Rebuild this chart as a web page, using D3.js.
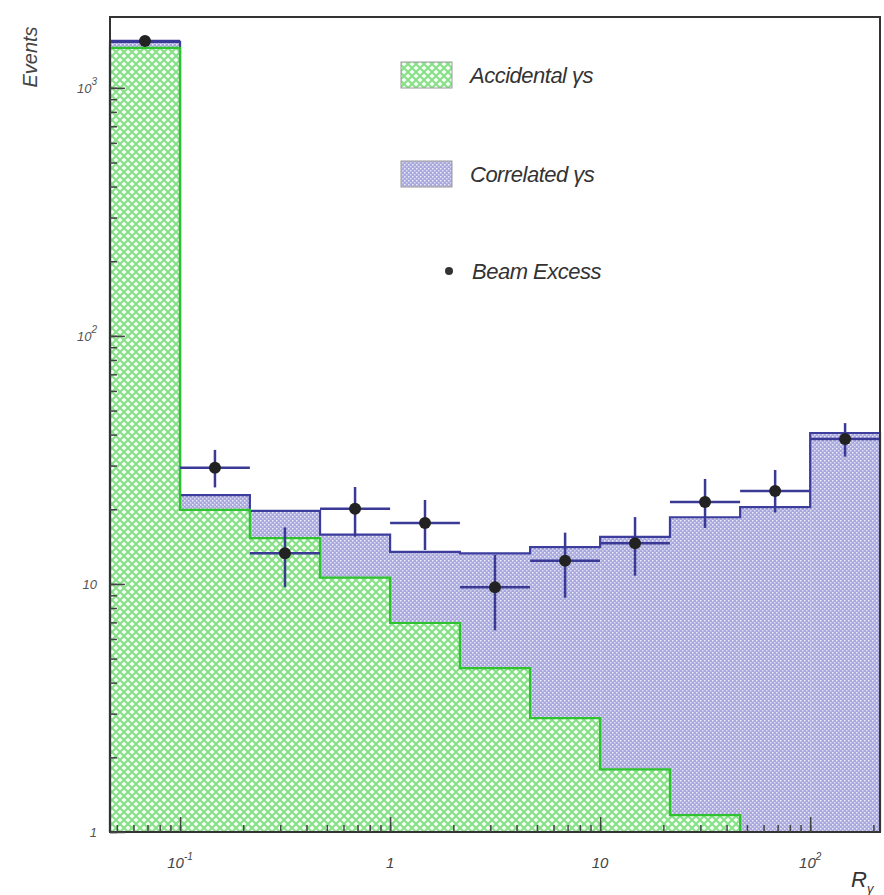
<!DOCTYPE html>
<html>
<head>
<meta charset="utf-8">
<script src="https://cdn.jsdelivr.net/npm/d3@7"></script>
<style>
  body { margin: 0; background: #fff; }
  svg { font-family: "Liberation Sans", Arial, sans-serif; font-style: italic; }
</style>
</head>
<body>
<div id="chart"></div>
<script>
// bin edges in R_gamma (three bins per decade)
const binEdges = [0.0464, 0.1, 0.215, 0.464, 1, 2.15, 4.64, 10, 21.5, 46.4, 100, 215];
// stacked histogram contents per bin
const accidental = [1450, 19.9, 15.3, 10.6, 6.96, 4.58, 2.88, 1.79, 1.17, 0.6, 0.3];
const correlated = [83, 2.9, 4.4, 5.2, 6.5, 8.7, 11.2, 13.7, 17.4, 19.8, 40.3];
// beam excess points with asymmetric errors
const excess = [1545, 29.4, 13.3, 20.1, 17.6, 9.7, 12.4, 14.6, 21.4, 23.7, 38.4];
const excessHi = [1600, 34.7, 16.9, 24.6, 21.8, 13.1, 16.1, 18.6, 26.5, 28.8, 44.5];
const excessLo = [1490, 24.5, 9.7, 15.5, 13.7, 6.5, 8.8, 10.8, 16.8, 19.4, 32.6];

const yTicks = [1, 10, 100, 1000];
const yTickLabels = [['1', ''], ['10', ''], ['10', '2'], ['10', '3']];
const xTicks = [0.1, 1, 10, 100];
const xTickLabels = [['10', '-1'], ['1', ''], ['10', ''], ['10', '2']];

const legendItems = ['Accidental γs', 'Correlated γs', 'Beam Excess'];

const width = 884, height = 895;
const margin = { top: 17, right: 4, bottom: 63, left: 110 };

const x = d3.scaleLog()
  .domain([binEdges[0], binEdges[binEdges.length - 1]])
  .range([margin.left, width - margin.right]);
const y = d3.scaleLog()
  .domain([1, 1930])
  .range([height - margin.bottom, margin.top])
  .clamp(true);

const svg = d3.select('#chart').append('svg')
  .attr('width', width)
  .attr('height', height);

const defs = svg.append('defs');

// green cross hatch
const pg = defs.append('pattern')
  .attr('id', 'hatchGreen')
  .attr('patternUnits', 'userSpaceOnUse')
  .attr('width', 8).attr('height', 8);
pg.append('rect').attr('width', 8).attr('height', 8).attr('fill', '#f4fdf4');
pg.append('path').attr('d', 'M0,0L8,8M8,0L0,8')
  .attr('stroke', '#86e086').attr('stroke-width', 2);

// blue stipple
const pb = defs.append('pattern')
  .attr('id', 'dotBlue')
  .attr('patternUnits', 'userSpaceOnUse')
  .attr('width', 4).attr('height', 4);
pb.append('rect').attr('width', 4).attr('height', 4).attr('fill', '#a8a8de');
pb.append('rect').attr('x', 0).attr('y', 0).attr('width', 1.5).attr('height', 1.5).attr('fill', '#ececf9');
pb.append('rect').attr('x', 2).attr('y', 2).attr('width', 1.5).attr('height', 1.5).attr('fill', '#dcdcf3');

const bins = accidental.map((a, i) => ({
  x0: binEdges[i],
  x1: binEdges[i + 1],
  acc: a,
  tot: a + correlated[i],
  ex: excess[i],
  hi: excessHi[i],
  lo: excessLo[i]
}));

const base = y(1);

// correlated (stacked on top)
svg.append('g').selectAll('rect')
  .data(bins)
  .join('rect')
  .attr('x', d => x(d.x0))
  .attr('width', d => x(d.x1) - x(d.x0))
  .attr('y', d => y(d.tot))
  .attr('height', d => base - y(d.tot))
  .attr('fill', 'url(#dotBlue)');

// accidental
svg.append('g').selectAll('rect')
  .data(bins)
  .join('rect')
  .attr('x', d => x(d.x0))
  .attr('width', d => x(d.x1) - x(d.x0))
  .attr('y', d => y(d.acc))
  .attr('height', d => base - y(d.acc))
  .attr('fill', 'url(#hatchGreen)');

function stepPoints(key) {
  const pts = [[x(bins[0].x0), base]];
  bins.forEach(d => {
    pts.push([x(d.x0), y(d[key])]);
    pts.push([x(d.x1), y(d[key])]);
  });
  pts.push([x(bins[bins.length - 1].x1), base]);
  return pts;
}

svg.append('path')
  .attr('d', d3.line()(stepPoints('tot')))
  .attr('fill', 'none')
  .attr('stroke', '#3d3d9e')
  .attr('stroke-width', 2.2);

svg.append('path')
  .attr('d', d3.line()(stepPoints('acc')))
  .attr('fill', 'none')
  .attr('stroke', '#2fc42f')
  .attr('stroke-width', 2.2);

// beam excess with error bars
const pts = svg.append('g');
pts.selectAll('.hbar')
  .data(bins)
  .join('line')
  .attr('x1', d => x(d.x0))
  .attr('x2', d => x(d.x1))
  .attr('y1', d => y(d.ex))
  .attr('y2', d => y(d.ex))
  .attr('stroke', '#3a3a96')
  .attr('stroke-width', 2.5);
pts.selectAll('.vbar')
  .data(bins)
  .join('line')
  .attr('x1', d => x(Math.sqrt(d.x0 * d.x1)))
  .attr('x2', d => x(Math.sqrt(d.x0 * d.x1)))
  .attr('y1', d => y(d.lo))
  .attr('y2', d => y(d.hi))
  .attr('stroke', '#3a3a96')
  .attr('stroke-width', 2.5);
pts.selectAll('circle')
  .data(bins)
  .join('circle')
  .attr('cx', d => x(Math.sqrt(d.x0 * d.x1)))
  .attr('cy', d => y(d.ex))
  .attr('r', 6)
  .attr('fill', '#222');

// frame
const [px0, px1] = x.range();
const [py0, py1] = [y.range()[1], y.range()[0]];
svg.append('rect')
  .attr('x', px0).attr('y', py0)
  .attr('width', px1 - px0).attr('height', py1 - py0)
  .attr('fill', 'none')
  .attr('stroke', '#333')
  .attr('stroke-width', 2);

// minor ticks
function minorTicks(lo, hi) {
  const out = [];
  for (let e = Math.floor(Math.log10(lo)); e <= Math.ceil(Math.log10(hi)); e++) {
    for (let m = 1; m < 10; m++) {
      const v = m * Math.pow(10, e);
      if (v >= lo && v <= hi) out.push(v);
    }
  }
  return out;
}

const axisColor = '#444';

svg.append('g')
  .attr('transform', `translate(${px0},0)`)
  .call(d3.axisRight(y).tickValues(minorTicks(1, 1930)).tickSize(7).tickFormat(''))
  .call(g => g.select('.domain').remove())
  .call(g => g.selectAll('line').attr('stroke', axisColor).attr('stroke-width', 1.5));
svg.append('g')
  .attr('transform', `translate(${px0},0)`)
  .call(d3.axisRight(y).tickValues(yTicks).tickSize(15).tickFormat(''))
  .call(g => g.select('.domain').remove())
  .call(g => g.selectAll('line').attr('stroke', axisColor).attr('stroke-width', 1.5));

svg.append('g')
  .attr('transform', `translate(0,${py1})`)
  .call(d3.axisTop(x).tickValues(minorTicks(binEdges[0], 215)).tickSize(7).tickFormat(''))
  .call(g => g.select('.domain').remove())
  .call(g => g.selectAll('line').attr('stroke', axisColor).attr('stroke-width', 1.5));
svg.append('g')
  .attr('transform', `translate(0,${py1})`)
  .call(d3.axisTop(x).tickValues(xTicks).tickSize(15).tickFormat(''))
  .call(g => g.select('.domain').remove())
  .call(g => g.selectAll('line').attr('stroke', axisColor).attr('stroke-width', 1.5));

// tick labels
function writeLabel(sel, parts) {
  sel.append('tspan').text(parts[0]);
  if (parts[1]) {
    sel.append('tspan').attr('dy', -8).attr('font-size', 10).text(parts[1]);
  }
}

yTicks.forEach((v, i) => {
  const t = svg.append('text')
    .attr('x', 97)
    .attr('y', y(v) + 5)
    .attr('text-anchor', 'end')
    .attr('font-size', 13)
    .attr('fill', '#555');
  writeLabel(t, yTickLabels[i]);
});

xTicks.forEach((v, i) => {
  const t = svg.append('text')
    .attr('x', x(v))
    .attr('y', 868)
    .attr('text-anchor', 'middle')
    .attr('font-size', 15)
    .attr('fill', '#444');
  writeLabel(t, xTickLabels[i]);
});

// axis titles
svg.append('text')
  .attr('transform', 'translate(37,57) rotate(-90)')
  .attr('text-anchor', 'middle')
  .attr('font-size', 20)
  .attr('fill', '#444')
  .text('Events');

const rt = svg.append('text')
  .attr('x', 851)
  .attr('y', 887)
  .attr('font-size', 22)
  .attr('fill', '#333');
rt.append('tspan').text('R');
rt.append('tspan').attr('dy', 6).attr('font-size', 13).text('γ');

// legend
const lg = svg.append('g');
const legY = [75, 174, 271];
lg.append('rect').attr('x', 401).attr('y', 62).attr('width', 51).attr('height', 26)
  .attr('fill', 'url(#hatchGreen)').attr('stroke', '#9a9a9a');
lg.append('rect').attr('x', 401).attr('y', 161).attr('width', 51).attr('height', 26)
  .attr('fill', 'url(#dotBlue)').attr('stroke', '#9a9a9a');
lg.append('circle').attr('cx', 449).attr('cy', legY[2]).attr('r', 4).attr('fill', '#333');
legendItems.forEach((t, i) => {
  lg.append('text')
    .attr('x', i === 2 ? 472 : 470)
    .attr('y', legY[i] + 8)
    .attr('font-size', 22)
    .attr('fill', '#333')
    .attr('letter-spacing', -0.5)
    .text(t);
});
</script>
</body>
</html>
